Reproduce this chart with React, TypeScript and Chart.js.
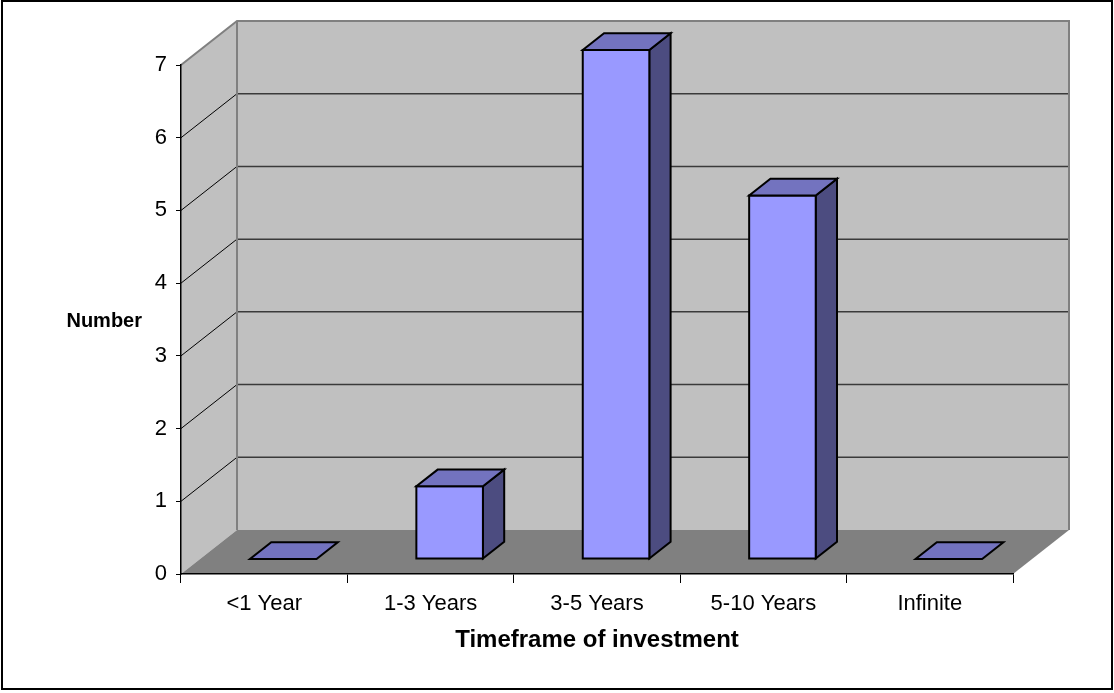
import React, { useEffect, useRef } from 'react';
import { Chart, registerables } from 'chart.js';

Chart.register(...registerables);

const categories = ['<1 Year', '1-3 Years', '3-5 Years', '5-10 Years', 'Infinite'];
const counts = [0, 1, 7, 5, 0];
const yTickValues = [0, 1, 2, 3, 4, 5, 6, 7];
const xTitle = 'Timeframe of investment';
const yTitle = 'Number';

const DEPTH_X = 56;
const DEPTH_Y = 44;
const BAR_FRONT = 0.34;
const BAR_BACK = 0.72;
const WALL = '#C0C0C0';
const FLOOR = '#808080';
const FRONT = '#9999FF';
const TOP = '#7373BF';
const SIDE = '#4C4C80';
const FONT = '"Liberation Sans", Arial, sans-serif';

function poly(ctx: CanvasRenderingContext2D, pts: number[][], fill: string | null, stroke?: string, lw?: number) {
  ctx.beginPath();
  ctx.moveTo(pts[0][0], pts[0][1]);
  for (let i = 1; i < pts.length; i++) ctx.lineTo(pts[i][0], pts[i][1]);
  ctx.closePath();
  if (fill) {
    ctx.fillStyle = fill;
    ctx.fill();
  }
  if (stroke) {
    ctx.strokeStyle = stroke;
    ctx.lineWidth = lw || 1;
    ctx.stroke();
  }
}

function line(ctx: CanvasRenderingContext2D, x1: number, y1: number, x2: number, y2: number, color: string, lw: number) {
  ctx.beginPath();
  ctx.moveTo(x1, y1);
  ctx.lineTo(x2, y2);
  ctx.strokeStyle = color;
  ctx.lineWidth = lw;
  ctx.stroke();
}

const threeD = {
  id: 'threeD',
  beforeDraw(chart: any) {
    const { ctx, chartArea: a, scales } = chart;
    const y = scales.y;
    ctx.save();
    ctx.fillStyle = '#fff';
    ctx.fillRect(0, 0, chart.width, chart.height);
    ctx.strokeStyle = '#000';
    ctx.lineWidth = 2;
    ctx.strokeRect(2, 1, chart.width - 4, chart.height - 5);

    const L = a.left;
    const R = a.right;
    const T = y.getPixelForValue(yTickValues[yTickValues.length - 1]);
    const B = y.getPixelForValue(0);
    const dx = DEPTH_X;
    const dy = DEPTH_Y;
    // left wall
    poly(ctx, [[L, B], [L + dx, B - dy], [L + dx, T - dy], [L, T]], WALL);
    // back wall
    ctx.fillStyle = WALL;
    ctx.fillRect(L + dx, T - dy, R - L, B - T);
    // floor
    poly(ctx, [[L, B], [R, B], [R + dx, B - dy], [L + dx, B - dy]], FLOOR);
    // gridlines
    yTickValues.forEach((v) => {
      if (v === 0 || v === yTickValues[yTickValues.length - 1]) return;
      const py = y.getPixelForValue(v);
      line(ctx, L, py, L + dx, py - dy, '#000', 1);
      line(ctx, L + dx, py - dy, R + dx, py - dy, '#3a3a3a', 1.5);
    });
    // wall edges
    ctx.lineJoin = 'miter';
    ctx.beginPath();
    ctx.moveTo(L, T);
    ctx.lineTo(L + dx, T - dy);
    ctx.lineTo(R + dx, T - dy);
    ctx.lineTo(R + dx, B - dy);
    ctx.strokeStyle = '#808080';
    ctx.lineWidth = 2;
    ctx.stroke();
    line(ctx, L + dx, T - dy, L + dx, B - dy, '#808080', 2);
    ctx.restore();
  },
  afterDatasetsDraw(chart: any) {
    const { ctx } = chart;
    const meta = chart.getDatasetMeta(0);
    const fx = DEPTH_X * BAR_FRONT;
    const fy = DEPTH_Y * BAR_FRONT;
    const ddx = DEPTH_X * (BAR_BACK - BAR_FRONT);
    const ddy = DEPTH_Y * (BAR_BACK - BAR_FRONT);
    ctx.save();
    ctx.lineJoin = 'miter';
    meta.data.forEach((el: any) => {
      const p = el.getProps(['x', 'y', 'base', 'width'], true);
      const l = p.x - p.width / 2 + fx;
      const r = p.x + p.width / 2 + fx;
      const t = p.y - fy;
      const b = p.base - fy;
      if (b - t > 0.5) {
        poly(ctx, [[r, b], [r + ddx, b - ddy], [r + ddx, t - ddy], [r, t]], SIDE, '#000', 2);
        poly(ctx, [[l, t], [r, t], [r, b], [l, b]], FRONT, '#000', 2);
      }
      poly(ctx, [[l, t], [r, t], [r + ddx, t - ddy], [l + ddx, t - ddy]], TOP, '#000', 2);
    });
    ctx.restore();
  },
  afterDraw(chart: any) {
    const { ctx, scales } = chart;
    const y = scales.y;
    const mid = (y.getPixelForValue(0) + y.getPixelForValue(yTickValues[yTickValues.length - 1])) / 2;
    ctx.save();
    ctx.font = 'bold 20px ' + FONT;
    ctx.fillStyle = '#000';
    ctx.textAlign = 'right';
    ctx.textBaseline = 'middle';
    ctx.fillText(yTitle, 142, mid + 2);
    ctx.restore();
  },
};

export default function App() {
  const ref = useRef<HTMLCanvasElement | null>(null);
  useEffect(() => {
    if (!ref.current) return;
    const chart = new Chart(ref.current, {
      type: 'bar',
      data: {
        labels: categories,
        datasets: [
          {
            data: counts,
            backgroundColor: 'rgba(0,0,0,0)',
            borderWidth: 0,
            barPercentage: 0.4,
            categoryPercentage: 1,
          },
        ],
      },
      options: {
        animation: false,
        responsive: false,
        devicePixelRatio: 1,
        layout: { padding: { top: 65, right: 101, left: 0, bottom: 0 } },
        plugins: { legend: { display: false }, tooltip: { enabled: false } },
        scales: {
          x: {
            afterFit: (s: any) => {
              s.height = 119;
            },
            grid: { drawOnChartArea: false, drawTicks: true, tickLength: 9, color: '#000', offset: true },
            border: { display: true, color: '#000', width: 1.5 },
            ticks: { color: '#000', font: { family: FONT, size: 22 }, padding: 8, maxRotation: 0 },
            title: {
              display: true,
              text: xTitle,
              color: '#000',
              font: { family: FONT, size: 24, weight: 'bold' },
              padding: { top: 4, bottom: 38 },
            },
          },
          y: {
            min: 0,
            max: 7,
            afterFit: (s: any) => {
              s.width = 181;
            },
            afterBuildTicks: (s: any) => {
              s.ticks = yTickValues.map((v) => ({ value: v }));
            },
            grid: { drawOnChartArea: false, drawTicks: true, tickLength: 5, color: '#000' },
            border: { display: true, color: '#000', width: 1.5 },
            ticks: { color: '#000', font: { family: FONT, size: 22 }, padding: 9 },
          },
        },
      },
      plugins: [threeD],
    } as any);
    return () => chart.destroy();
  }, []);
  return (
    <div style={{ position: 'fixed', left: 0, top: 0, width: 1114, height: 693 }}>
      <canvas ref={ref} width={1114} height={693} />
    </div>
  );
}
